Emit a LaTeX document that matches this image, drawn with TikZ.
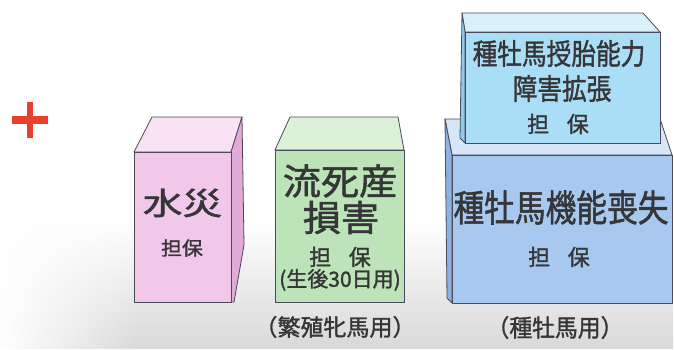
\documentclass[tikz,border=0pt]{standalone}
\usepackage{fontspec}
\usepackage{graphicx}
\usetikzlibrary{fadings}
\newfontfamily\cjk[FakeBold=1.4]{Noto Sans CJK JP}
\definecolor{pinkF}{HTML}{F2C8EA}
\definecolor{pinkT}{HTML}{F8E2F3}
\definecolor{pinkS}{HTML}{E2AAD8}
\definecolor{greenF}{HTML}{BCE4B8}
\definecolor{greenT}{HTML}{DDF1D9}
\definecolor{blueF}{HTML}{A8C9EF}
\definecolor{blueT}{HTML}{D6E5F8}
\definecolor{blueS}{HTML}{8DB2E0}
\definecolor{lblueF}{HTML}{AADDF6}
\definecolor{lblueT}{HTML}{DAF1FC}
\definecolor{lblueS}{HTML}{90CBEA}
\definecolor{ink}{HTML}{363638}
\definecolor{edge}{HTML}{4A4A58}
\definecolor{plusred}{HTML}{E8402C}
\newcommand\jt[3]{\scalebox{#2}[1]{\fontsize{#1}{#1}\selectfont #3}}
\begin{document}
\begin{tikzpicture}[x=1pt,y=-1pt,
  face/.style={draw=edge, line width=0.8pt, line join=round},
  lbl/.style={text=ink, inner sep=0pt, font=\cjk}]
\useasboundingbox (0,0) rectangle (674,349);
\fill[white] (0,0) rectangle (674,349);
% soft background shade
\fill[black!15, path fading=north] (0,220) rectangle (674,349);
\fill[white, path fading=east] (0,210) rectangle (140,349);
% red plus
\fill[plusred] (12,116) rectangle (48,124);
\fill[plusred] (27,102) rectangle (33,138);
% pink box
\filldraw[face, fill=pinkT] (134,152) -- (152,117) -- (242,117) -- (231,152) -- cycle;
\filldraw[face, fill=pinkS] (231,152) -- (242,117) -- (244,245) -- (234,302) -- (231,302) -- cycle;
\filldraw[face, fill=pinkF] (134,152) rectangle (231,302);
% green box
\filldraw[face, fill=greenT] (275,150) -- (290,117) -- (398,117) -- (404,150) -- cycle;
\filldraw[face, fill=greenF] (275,150) rectangle (404,302);
% big blue box
\filldraw[face, fill=blueT] (445,119) -- (660,119) -- (672,155) -- (452,155) -- cycle;
\filldraw[face, fill=blueS] (445,119) -- (452,155) -- (452,303) -- (447,298) -- cycle;
\filldraw[face, fill=blueF] (452,155) rectangle (672,303);
% light blue box on top
\filldraw[face, fill=lblueT] (462,13) -- (643,13) -- (660,32) -- (465,32) -- cycle;
\filldraw[face, fill=lblueS] (462,13) -- (465,32) -- (465,143) -- (460,138) -- cycle;
\filldraw[face, fill=lblueF] (465,32) rectangle (660,143);
% texts
\node[lbl] (suisai) at (182.5,203) {\jt{31}{1.28}{水災}};
\node[lbl] (suisaiH) at (182,248) {\jt{19}{1.1}{担保}};
\node[lbl] (ryu1) at (340,181) {\jt{36}{1.06}{流死産}};
\node[lbl] (ryu2) at (341,217.5) {\jt{36}{1.06}{損害}};
\node[lbl] (ryuH) at (340,257) {\jt{22}{1}{担\hspace{0.8em}保}};
\node[lbl] (ryuN) at (340,280) {\jt{21}{1}{(生後30日用)}};
\node[lbl] (hanshoku) at (335,327) {\jt{23}{1}{（繁殖牝馬用）}};
\node[lbl] (jutai1) at (559,53.5) {\jt{29}{0.85}{種牡馬授胎能力}};
\node[lbl] (jutai2) at (562,88.5) {\jt{29}{0.85}{障害拡張}};
\node[lbl] (jutaiH) at (558,124) {\jt{22}{1}{担\hspace{0.8em}保}};
\node[lbl] (kino) at (561,207.5) {\jt{37}{0.83}{種牡馬機能喪失}};
\node[lbl] (kinoH) at (559,257) {\jt{22}{1}{担\hspace{0.8em}保}};
\node[lbl] (shubo) at (555,327.5) {\jt{24}{0.95}{（種牡馬用）}};
\end{tikzpicture}
\end{document}
